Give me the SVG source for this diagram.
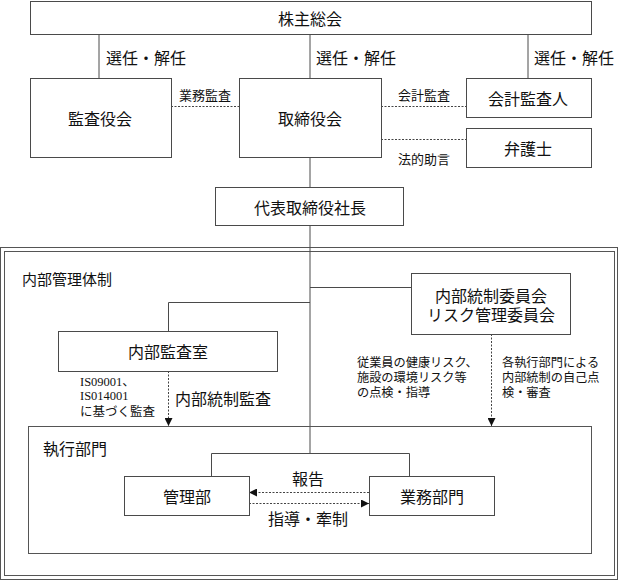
<svg xmlns="http://www.w3.org/2000/svg" width="620" height="581" viewBox="0 0 620 581">
<defs>
<style>
.box{fill:#fff;stroke:#4a4a4a;stroke-width:1}
.frame{fill:none;stroke:#555;stroke-width:1}
.ln{fill:none;stroke:#4a4a4a;stroke-width:1}
.dot{fill:none;stroke:#444;stroke-width:1;stroke-dasharray:2 1.5}
text{font-family:"Noto Sans CJK JP","Noto Sans CJK SC",sans-serif;fill:#111;dominant-baseline:central}
.t16{font-size:16px}
.t15{font-size:15px}
.t13{font-size:13px}
.t12{font-size:12.5px}
.t12r{font-size:12.2px}
.c{text-anchor:middle}
.serif{font-family:"Liberation Serif","Noto Sans CJK JP",serif}
</style>
<marker id="ah" viewBox="0 0 8 8" refX="8" refY="4" markerWidth="8" markerHeight="8" markerUnits="userSpaceOnUse" orient="auto">
<path d="M0,0 L8,4 L0,8 Z" fill="#111"/>
</marker>
</defs>
<rect width="620" height="581" fill="#fff"/>

<g id="frame">
<rect class="frame" x="0.5" y="247.5" width="617" height="332"/>
<rect class="frame" x="4.5" y="251.5" width="610" height="324"/>
<text class="t15" x="22" y="278">内部管理体制</text>
</g>

<g id="connectors">
<line class="ln" x1="99" y1="34" x2="99" y2="78"/>
<line class="ln" x1="310" y1="34" x2="310" y2="78"/>
<line class="ln" x1="528" y1="34" x2="528" y2="78"/>
<line class="ln" x1="310" y1="157" x2="310" y2="187"/>
<line class="ln" x1="310" y1="225" x2="310" y2="453"/>
<polyline class="ln" points="310,287.5 411,287.5"/>
<polyline class="ln" points="310,302.5 168.5,302.5 168.5,331"/>
<polyline class="ln" points="211.5,476 211.5,453.5 409.5,453.5 409.5,476"/>
<line class="dot" x1="171" y1="106.5" x2="239" y2="106.5"/>
<line class="dot" x1="381" y1="106.5" x2="466" y2="106.5"/>
<line class="dot" x1="381" y1="139.5" x2="466" y2="139.5"/>
<line class="dot" x1="168.5" y1="371" x2="168.5" y2="426" marker-end="url(#ah)"/>
<line class="dot" x1="491.5" y1="334" x2="491.5" y2="426" marker-end="url(#ah)"/>
<line class="dot" x1="369" y1="492.5" x2="249" y2="492.5" marker-end="url(#ah)"/>
<line class="dot" x1="249" y1="503.5" x2="369" y2="503.5" marker-end="url(#ah)"/>
<text class="t16" x="106" y="57">選任・解任</text>
<text class="t16" x="316" y="57">選任・解任</text>
<text class="t16" x="534" y="57">選任・解任</text>
<text class="t13 c" x="205" y="94">業務監査</text>
<text class="t13 c" x="424" y="94">会計監査</text>
<text class="t13 c" x="424" y="158">法的助言</text>
<text class="t12 serif" x="80" y="382">IS09001、</text>
<text class="t12 serif" x="80" y="396">IS014001</text>
<text class="t12" x="80" y="410">に基づく監査</text>
<text class="t16" x="175" y="398">内部統制監査</text>
<text class="t12r" x="357" y="362">従業員の健康リスク、</text>
<text class="t12r" x="357" y="377">施設の環境リスク等</text>
<text class="t12r" x="357" y="392">の点検・指導</text>
<text class="t12r" x="502" y="362">各執行部門による</text>
<text class="t12r" x="502" y="377">内部統制の自己点</text>
<text class="t12r" x="502" y="392">検・審査</text>
<text class="t16 c" x="308" y="478">報告</text>
<text class="t16 c" x="308" y="518">指導・牽制</text>
</g>

<g id="shareholders">
<rect class="box" x="30.5" y="1.5" width="561" height="33"/>
<text class="t16 c" x="310" y="18">株主総会</text>
</g>
<g id="auditors-board">
<rect class="box" x="30.5" y="78.5" width="141" height="79"/>
<text class="t16 c" x="100" y="118">監査役会</text>
</g>
<g id="board">
<rect class="box" x="239.5" y="78.5" width="142" height="79"/>
<text class="t16 c" x="310" y="118">取締役会</text>
</g>
<g id="accounting-auditor">
<rect class="box" x="466.5" y="78.5" width="125" height="39"/>
<text class="t16 c" x="528" y="98">会計監査人</text>
</g>
<g id="lawyer">
<rect class="box" x="466.5" y="128.5" width="125" height="39"/>
<text class="t16 c" x="528" y="148">弁護士</text>
</g>
<g id="president">
<rect class="box" x="215.5" y="187.5" width="188" height="38"/>
<text class="t16 c" x="310" y="207">代表取締役社長</text>
</g>
<g id="committee">
<rect class="box" x="411.5" y="273.5" width="159" height="61"/>
<text class="t16 c" x="491" y="295">内部統制委員会</text>
<text class="t16 c" x="491" y="314">リスク管理委員会</text>
</g>
<g id="internal-audit">
<rect class="box" x="58.5" y="331.5" width="219" height="40"/>
<text class="t16 c" x="168" y="351">内部監査室</text>
</g>
<g id="execution">
<rect class="frame" x="28.5" y="426.5" width="563" height="127"/>
<text class="t16" x="43" y="448">執行部門</text>
</g>
<g id="management">
<rect class="box" x="124.5" y="476.5" width="125" height="39"/>
<text class="t16 c" x="187" y="496">管理部</text>
</g>
<g id="business">
<rect class="box" x="369.5" y="476.5" width="125" height="39"/>
<text class="t16 c" x="432" y="496">業務部門</text>
</g>
</svg>
